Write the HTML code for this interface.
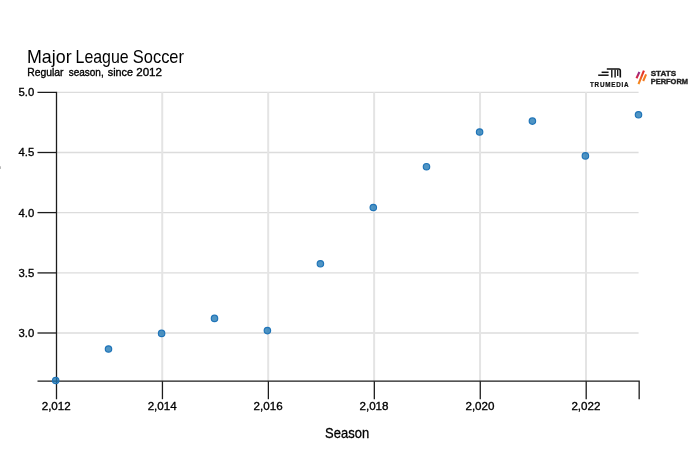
<!DOCTYPE html>
<html><head><meta charset="utf-8">
<style>
html,body{margin:0;padding:0;background:#fff;}
body{width:690px;height:459px;overflow:hidden;}
svg{display:block;}
text{font-family:"Liberation Sans",sans-serif;fill:#000;}
.tick{font-size:11.6px;stroke:#000;stroke-width:0.33px;}
.gh line{stroke:#dcdcdc;stroke-width:1.3;}
.gv line{stroke:#e4e4e4;stroke-width:2;}
.axis line,.axis path{stroke:#1c1c1c;stroke-width:1.3;fill:none;}
.pts circle{fill:#1f77b4;fill-opacity:0.78;stroke:#1f74b8;stroke-width:1.2;}
</style></head><body>
<svg width="690" height="459" viewBox="0 0 690 459">
<rect width="690" height="459" fill="#fff"/>
<rect x="0" y="166.3" width="0.9" height="2.6" fill="#b0b0b0"/>
<text id="title" y="63" font-size="17.8"><tspan x="27" textLength="44.6" lengthAdjust="spacingAndGlyphs">Major</tspan> <tspan x="75.6" textLength="53" lengthAdjust="spacingAndGlyphs">League</tspan> <tspan x="132.8" textLength="51.2" lengthAdjust="spacingAndGlyphs">Soccer</tspan></text>
<text id="sub" y="76.3" font-size="11" stroke="#000" stroke-width="0.35"><tspan x="27.2" textLength="36.3" lengthAdjust="spacingAndGlyphs">Regular</tspan> <tspan x="68.7" textLength="35" lengthAdjust="spacingAndGlyphs">season,</tspan> <tspan x="107.8" textLength="25.2" lengthAdjust="spacingAndGlyphs">since</tspan> <tspan x="136.2" textLength="25.8" lengthAdjust="spacingAndGlyphs">2012</tspan></text>
<g id="trumedia" stroke="#111" fill="none" stroke-linecap="butt">
<path d="M606.8 69H618.6Q620.3 69 620.3 70.7V77.5" stroke-width="1.6"/>
<path d="M601.6 72.3H608.6" stroke-width="1.5"/>
<path d="M598.2 75.2H608.6" stroke-width="1.5"/>
<path d="M611.8 69.8V77.5" stroke-width="1.4"/>
<path d="M615.1 69.8V77.5" stroke-width="1.4"/>
<path d="M617.7 69.8V76" stroke-width="1.3"/>
</g>
<text id="tmtext" x="590" y="86.5" font-size="6.3" font-weight="bold" textLength="38.6" lengthAdjust="spacing" style="fill:#111;stroke:#111;stroke-width:0.2px">TRUMEDIA</text>
<defs>
<linearGradient id="g1" x1="0" y1="0" x2="0" y2="1"><stop offset="0" stop-color="#8a2a8e"/><stop offset="1" stop-color="#e5243a"/></linearGradient>
<linearGradient id="g2" x1="0" y1="0" x2="0" y2="1"><stop offset="0" stop-color="#e01f2d"/><stop offset="1" stop-color="#f7941d"/></linearGradient>
</defs>
<g id="sp" stroke-width="2.1" fill="none">
<path d="M639.4 72L636.5 78.3" stroke="url(#g1)"/>
<path d="M643.9 70.6L638.5 84.2" stroke="url(#g2)"/>
<path d="M646.1 74.3L643.2 81" stroke="#f47b20"/>
</g>
<g font-weight="bold" font-size="8">
<text id="st1" x="650.7" y="76.2" textLength="25.4" lengthAdjust="spacingAndGlyphs" style="fill:#222;stroke:#222;stroke-width:0.4px">STATS</text>
<text id="st2" x="650.7" y="83.7" textLength="37.3" lengthAdjust="spacingAndGlyphs" style="fill:#222;stroke:#222;stroke-width:0.4px">PERFORM</text>
</g>

<g class="gh">
<line x1="56.5" x2="638.5699999999999" y1="92.3" y2="92.3"/>
<line x1="56.5" x2="638.5699999999999" y1="152.5" y2="152.5"/>
<line x1="56.5" x2="638.5699999999999" y1="212.6" y2="212.6"/>
<line x1="56.5" x2="638.5699999999999" y1="272.9" y2="272.9"/>
<line x1="56.5" x2="638.5699999999999" y1="333.0" y2="333.0"/>
</g><g class="gv">
<line x1="162.24" x2="162.24" y1="92.3" y2="381.2"/>
<line x1="268.18" x2="268.18" y1="92.3" y2="381.2"/>
<line x1="374.12" x2="374.12" y1="92.3" y2="381.2"/>
<line x1="480.06" x2="480.06" y1="92.3" y2="381.2"/>
<line x1="586.00" x2="586.00" y1="92.3" y2="381.2"/>
</g><g class="axis">
<path d="M37.5 92.3H56.5V399.2"/>
<path d="M37.5 381.2H639.17V399.2"/>
<line x1="37.5" x2="56.5" y1="152.5" y2="152.5"/>
<line x1="37.5" x2="56.5" y1="212.6" y2="212.6"/>
<line x1="37.5" x2="56.5" y1="272.9" y2="272.9"/>
<line x1="37.5" x2="56.5" y1="333.0" y2="333.0"/>
<line x1="162.44" x2="162.44" y1="381.2" y2="399.2"/>
<line x1="268.38" x2="268.38" y1="381.2" y2="399.2"/>
<line x1="374.32" x2="374.32" y1="381.2" y2="399.2"/>
<line x1="480.26" x2="480.26" y1="381.2" y2="399.2"/>
<line x1="586.2" x2="586.2" y1="381.2" y2="399.2"/>
</g><g class="tick" text-anchor="end">
<text x="34.3" y="96.25" font-size="11.3">5.0</text>
<text x="34.3" y="156.45" font-size="11.3">4.5</text>
<text x="34.3" y="216.55" font-size="11.3">4.0</text>
<text x="34.3" y="276.85" font-size="11.3">3.5</text>
<text x="34.3" y="336.95" font-size="11.3">3.0</text>
</g><g class="tick" text-anchor="middle">
<text x="56.20" y="410.4">2,012</text>
<text x="162.14" y="410.4">2,014</text>
<text x="268.08" y="410.4">2,016</text>
<text x="374.02" y="410.4">2,018</text>
<text x="479.96" y="410.4">2,020</text>
<text x="585.90" y="410.4">2,022</text>
</g>
<text id="xl" x="325.1" y="438.3" font-size="14.6" textLength="44" lengthAdjust="spacingAndGlyphs" stroke="#000" stroke-width="0.3">Season</text>
<g class="pts">
<circle cx="55.7" cy="380.5" r="3.2"/>
<circle cx="108.5" cy="349.0" r="3.2"/>
<circle cx="161.6" cy="333.4" r="3.2"/>
<circle cx="214.5" cy="318.4" r="3.2"/>
<circle cx="267.4" cy="330.6" r="3.2"/>
<circle cx="320.4" cy="263.8" r="3.2"/>
<circle cx="373.3" cy="207.5" r="3.2"/>
<circle cx="426.5" cy="166.7" r="3.2"/>
<circle cx="479.6" cy="132.0" r="3.2"/>
<circle cx="532.4" cy="121.1" r="3.2"/>
<circle cx="585.4" cy="155.9" r="3.2"/>
<circle cx="638.5" cy="114.8" r="3.2"/>
</g></svg></body></html>
